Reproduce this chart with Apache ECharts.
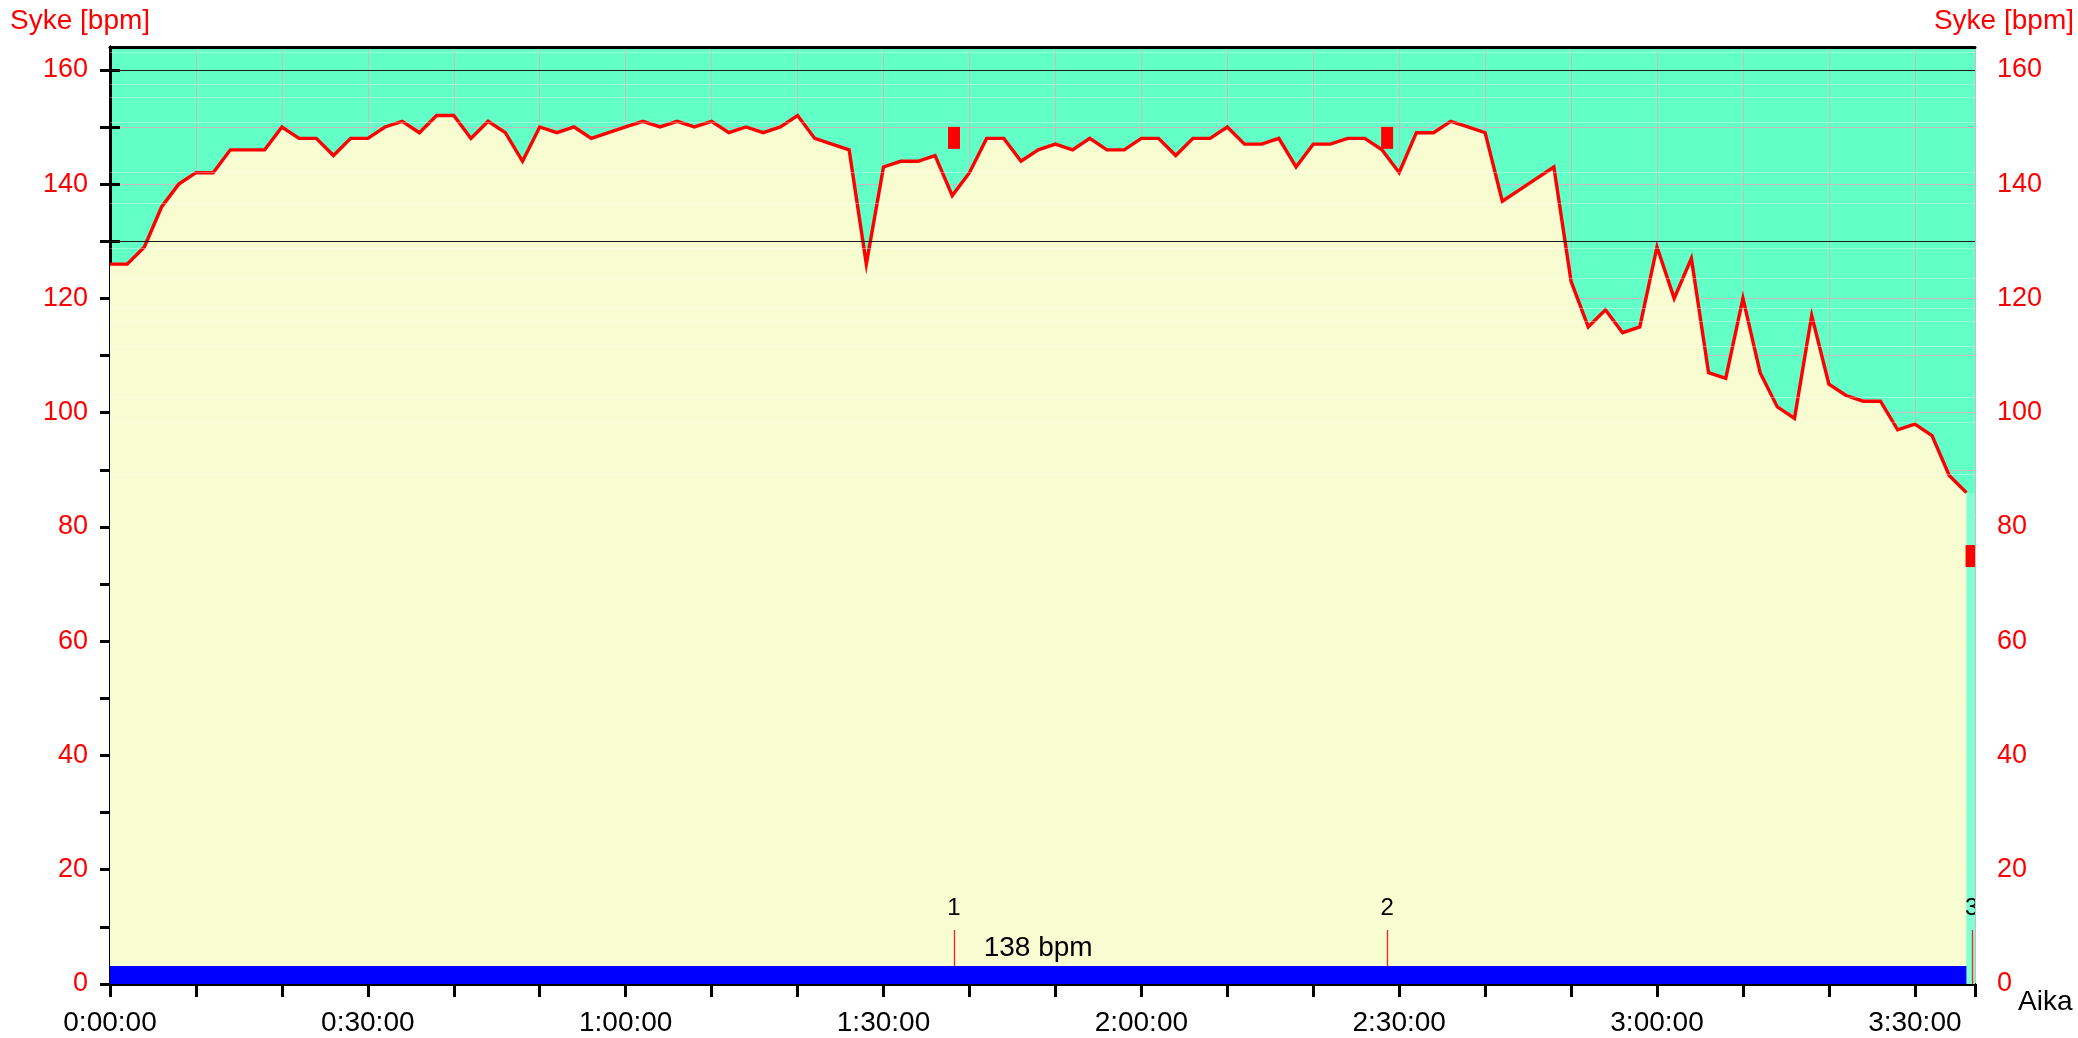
<!DOCTYPE html>
<html><head><meta charset="utf-8">
<script src="https://cdn.jsdelivr.net/npm/echarts@6/dist/echarts.min.js"></script>
<style>html,body{margin:0;padding:0;background:#fff}#c{width:2078px;height:1038px}</style>
</head><body><div id="c"></div>
<script>
// ---- data (time in minutes) ----
const times = [0,2,4,6,8,10,12,14,16,18,20,22,24,26,28,30,32,34,36,38,40,42,44,46,48,50,52,54,56,58,60,62,64,66,68,70,72,74,76,78,80,82,84,86,88,90,92,94,96,98,100,102,104,106,108,110,112,114,116,118,120,122,124,126,128,130,132,134,136,138,140,142,144,146,148,150,152,154,156,158,160,162,164,166,168,170,172,174,176,178,180,182,184,186,188,190,192,194,196,198,200,202,204,206,208,210,212,214,216];
const heartRate = [126,126,129,136,140,142,142,146,146,146,
150,148,148,145,148,148,150,151,149,152,
152,148,151,149,144,150,149,150,148,149,
150,151,150,151,150,151,149,150,149,150,
152,148,147,146,126,143,144,144,145,138,
142,148,148,144,146,147,146,148,146,146,
148,148,145,148,148,150,147,147,148,143,
147,147,148,148,146,142,149,149,151,150,
149,137,139,141,143,123,115,118,114,115,
129,120,127,107,106,120,107,101,99,117,
105,103,102,102,97,98,96,89,86];
const xTickMinutes = [0,10,20,30,40,50,60,70,80,90,100,110,120,130,140,150,160,170,180,190,200,210,217];
const xLabelMinutes = [0,30,60,90,120,150,180,210];
const yTicks = [0,10,20,30,40,50,60,70,80,90,100,110,120,130,140,150,160];
const yLabels = [0,20,40,60,80,100,120,140,160];
const zoneLimits = [160,130];
const faintLevels = [163,157.5,155.2,150.9,142.1,136.7,128.8,123.5,118.2,116,111.6,102.7,98.4,89.3];
const lapTimes = [98.2,148.6,216.6];
const lapMarkerHr = [148.1,148.1,74.9];
const lapNames = ['1','2','3'];
const averageText = '138 bpm';
const xMax = 217, yMax = 164;
const yName = 'Syke [bpm]', xName = 'Aika';

// ---- style ----
const FF = '"Liberation Sans", Arial, Helvetica, sans-serif';
const GREEN = '#62FFC6', YELLOW = '#F7FDD1', RED = '#FF0000', GRID = '#C8BCC0';

const hrPoints = times.map((t,i)=>[t, heartRate[i]]);
function fmtTime(m){ const h=Math.floor(m/60), mm=Math.round(m%60); return h+':'+(mm<10?'0':'')+mm+':00'; }

function yAxisDef(side){
  return {
    type:'value', min:0, max:yMax, interval:10, position:side,
    axisLine:{show:true, lineStyle:{color:'#000', width:3}},
    axisTick:{show:true, length:10, customValues:yTicks, lineStyle:{color:'#000', width:3}},
    axisLabel:{show:true, customValues:yLabels, color:RED, fontSize:27, fontFamily:FF, margin:22},
    splitLine:{show: side==='left', lineStyle:{color:GRID, width:1}}
  };
}

const chart = echarts.init(document.getElementById('c'), null, {renderer:'canvas'});
chart.setOption({
  animation:false,
  backgroundColor:'#fff',
  title:[
    {text:yName, left:10, top:7, padding:0, textStyle:{color:RED, fontSize:28, fontWeight:'normal', fontFamily:FF}},
    {text:yName, right:4, top:7, padding:0, textStyle:{color:RED, fontSize:28, fontWeight:'normal', fontFamily:FF}}
  ],
  grid:{left:110, right:103, top:47, bottom:54, show:true, backgroundColor:GREEN, borderWidth:0},
  xAxis:[{
    type:'value', min:0, max:xMax, interval:10, position:'bottom',
    name:xName, nameLocation:'end', nameGap:43,
    nameTextStyle:{color:'#000', fontSize:28, fontFamily:FF, align:'left', verticalAlign:'top', padding:[4,0,0,0]},
    axisLine:{show:true, onZero:false, lineStyle:{color:'#000', width:3}},
    axisTick:{show:true, length:13, customValues:xTickMinutes, lineStyle:{color:'#000', width:3}},
    axisLabel:{show:true, customValues:xLabelMinutes, formatter:fmtTime, color:'#000', fontSize:28, fontFamily:FF, margin:25},
    splitLine:{show:true, lineStyle:{color:GRID, width:1}}
  },{
    type:'value', min:0, max:xMax, position:'top',
    axisLine:{show:true, onZero:false, lineStyle:{color:'#000', width:3}},
    axisTick:{show:false}, axisLabel:{show:false}, splitLine:{show:false}
  }],
  yAxis:[yAxisDef('left'), yAxisDef('right')],
  series:[
    { // faint reference levels (under the fill)
      type:'line', data:hrPoints, z:1, symbol:'none', silent:true,
      lineStyle:{width:0, opacity:0},
      markLine:{silent:true, symbol:['none','none'], label:{show:false},
        lineStyle:{color:'rgba(255,255,255,0.35)', width:1, type:'solid'},
        data:faintLevels.map(v=>({yAxis:v}))}
    },
    { // area under heart rate
      type:'line', data:hrPoints, z:2, symbol:'none', silent:true,
      lineStyle:{width:0, opacity:0},
      areaStyle:{color:YELLOW, opacity:1},
      markArea:{silent:true, itemStyle:{color:'#80FFD4', opacity:1},
        data:[[{xAxis:times[times.length-1], yAxis:0},{xAxis:xMax, yAxis:heartRate[heartRate.length-1]}]]}
    },
    { // zone limit lines
      type:'line', data:[], z:3, symbol:'none', silent:true,
      markLine:{silent:true, symbol:['none','none'], label:{show:false},
        lineStyle:{color:'#1a1a1a', width:1.2, type:'solid'},
        data:zoneLimits.map(v=>({yAxis:v}))}
    },
    { // heart rate line
      type:'line', data:hrPoints, z:4, symbol:'none', silent:true,
      lineStyle:{color:RED, width:3.4, join:'miter'}
    },
    { // laps
      type:'custom', z:5, silent:true, clip:true,
      data:lapTimes.map((t,i)=>[t, lapMarkerHr[i], i]),
      renderItem:function(params, api){
        const t = api.value(0), i = api.value(2);
        const base = api.coord([t,0]);
        const mk = api.coord([t, api.value(1)]);
        const x = Math.round(base[0]) + 0.5;
        return {type:'group', children:[
          {type:'line', shape:{x1:x, y1:base[1], x2:x, y2:base[1]-54}, style:{stroke:'#FF2020', lineWidth:1.3}},
          {type:'text', x:base[0], y:base[1]-76, style:{text:lapNames[i], fill:'#000', fontSize:24, fontFamily:FF, align:'center', verticalAlign:'middle'}},
          {type:'rect', shape:{x:mk[0]-6, y:mk[1]-11, width:12, height:22}, style:{fill:RED}}
        ]};
      }
    },
    { // session bar + average
      type:'custom', z:6, silent:true, clip:true,
      data:[[times[0], times[times.length-1]]],
      renderItem:function(params, api){
        const a = api.coord([api.value(0),0]), b = api.coord([api.value(1),0]);
        return {type:'group', children:[
          {type:'rect', shape:{x:a[0], y:a[1]-18, width:b[0]-a[0], height:18}, style:{fill:'#0000FF'}},
          {type:'text', x:(a[0]+b[0])/2, y:a[1]-36, style:{text:averageText, fill:'#000', fontSize:28, fontFamily:FF, align:'center', verticalAlign:'middle'}}
        ]};
      }
    }
  ]
});
</script></body></html>
